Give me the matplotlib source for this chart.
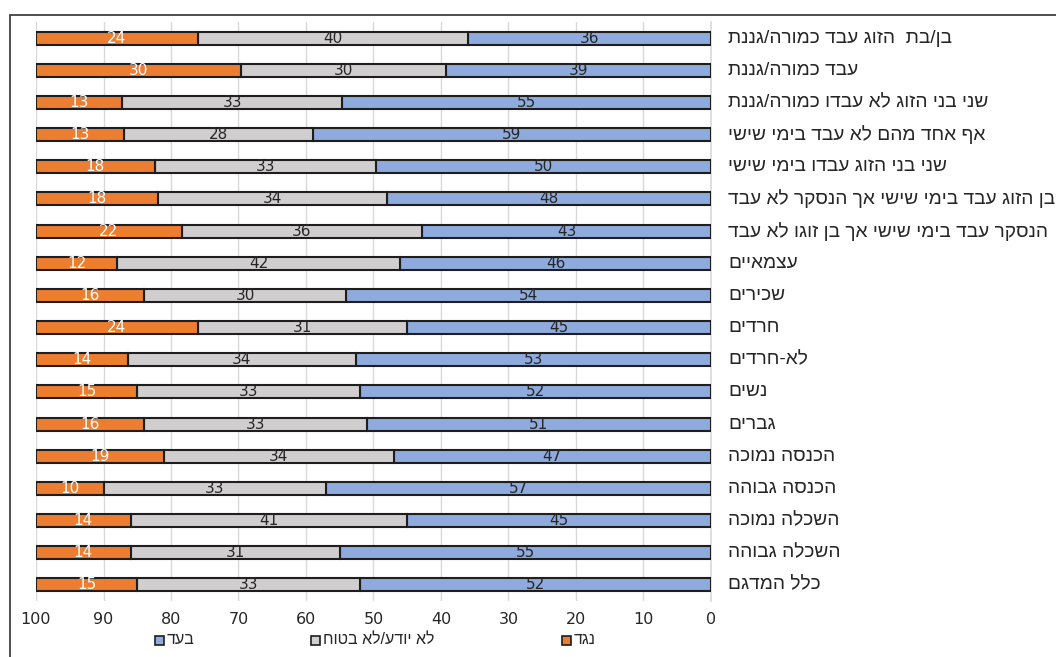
import numpy as np
import matplotlib
matplotlib.use('Agg')
import matplotlib.pyplot as plt
from matplotlib.patches import Rectangle

# categories, top to bottom
categories = [
    'בן/בת  הזוג עבד כמורה/גננת',
    'עבד כמורה/גננת',
    'שני בני הזוג לא עבדו כמורה/גננת',
    'אף אחד מהם לא עבד בימי שישי',
    'שני בני הזוג עבדו בימי שישי',
    'בן הזוג עבד בימי שישי אך הנסקר לא עבד',
    'הנסקר עבד בימי שישי אך בן זוגו לא עבד',
    'עצמאיים',
    'שכירים',
    'חרדים',
    'לא-חרדים',
    'נשים',
    'גברים',
    'הכנסה נמוכה',
    'הכנסה גבוהה',
    'השכלה נמוכה',
    'השכלה גבוהה',
    'כלל המדגם',
]
# shares in percent (labels are rounded, bars add up to 100)
pro = [36, 39.3, 54.6, 59, 49.6, 48, 42.8, 46, 54, 45, 52.6, 52, 51, 47, 57, 45, 55, 52]
unsure = [40, 30.4, 32.6, 28, 32.8, 34, 35.6, 42, 30, 31, 33.8, 33, 33, 34, 33, 41, 31, 33]
against = [24, 30.3, 12.8, 13, 17.6, 18, 21.6, 12, 16, 24, 13.6, 15, 16, 19, 10, 14, 14, 15]
series_names = ['בעד', 'לא יודע/לא בטוח', 'נגד']
xticks = [100, 90, 80, 70, 60, 50, 40, 30, 20, 10, 0]


def rtl(s):
    # matplotlib has no bidi support, so flip the Hebrew strings by hand
    return s[::-1]


colors = ['#8FAADC', '#D0CECE', '#ED7D31']
text_colors = ['#262626', '#262626', 'white']
edge = '#1e1e1e'
num_font = ['Liberation Sans Narrow', 'DejaVu Sans']
heb_font = ['Liberation Sans', 'DejaVu Sans']

W, H = 1056, 657
fig = plt.figure(figsize=(W / 100, H / 100), dpi=100)
ax = fig.add_axes([36 / W, 1 - 601 / H, (711 - 36) / W, (601 - 22) / H])

y = np.arange(len(categories))
left = np.zeros(len(categories))
for vals, c, tc in zip([pro, unsure, against], colors, text_colors):
    vals = np.array(vals, dtype=float)
    ax.barh(y, vals, left=left, height=0.4, color=c, edgecolor=edge,
            linewidth=1.5, zorder=3)
    for yi, l, v in zip(y, left, vals):
        ax.text(l + v / 2, yi, f'{round(v)}', ha='center', va='center',
                color=tc, fontsize=11, family=num_font, zorder=4)
    left += vals

ax.set_xlim(100, 0)
ax.set_ylim(len(categories) - 0.5, -0.5)
ax.set_xticks(xticks)
ax.set_xticklabels([str(t) for t in xticks], fontsize=11.5,
                   family=num_font, color='#262626')
ax.tick_params(axis='x', length=0, pad=8)
ax.tick_params(axis='y', length=0)
ax.set_yticks(y)
ax.set_yticklabels([])
ax.grid(axis='x', color='#d9d9d9', linewidth=1, zorder=0)
for s in ['top', 'left', 'bottom']:
    ax.spines[s].set_visible(False)
ax.spines['right'].set_color('#d9d9d9')
ax.spines['right'].set_linewidth(1.2)

# category labels to the right of the axis
for yi, cat in zip(y, categories):
    ax.annotate(rtl(cat), xy=(0, yi), xycoords=('axes fraction', 'data'),
                xytext=(728 - 36, 0), textcoords='offset pixels',
                ha='left', va='center', fontsize=13.8,
                family=heb_font, color='#262626',
                annotation_clip=False)

# legend: square then label, laid out left to right
leg_y = 1 - 640 / H
leg_x = [155, 311, 562]
for lx, name, c in zip(leg_x, series_names, colors):
    fig.patches.append(Rectangle((lx / W, leg_y - 4.5 / H), 9 / W, 9 / H,
                                 transform=fig.transFigure, facecolor=c,
                                 edgecolor=edge, linewidth=1.2))
    fig.text((lx + 12) / W, leg_y, rtl(name), ha='left', va='center',
             fontsize=11.5, family=heb_font, color='#262626')

# chart frame
fig.patches.append(Rectangle((10 / W, -0.05), 1.1, 1 - 15 / H + 0.05,
                             transform=fig.transFigure, fill=False,
                             edgecolor='#404040', linewidth=1.3))

fig.savefig('out.png', dpi=100)
